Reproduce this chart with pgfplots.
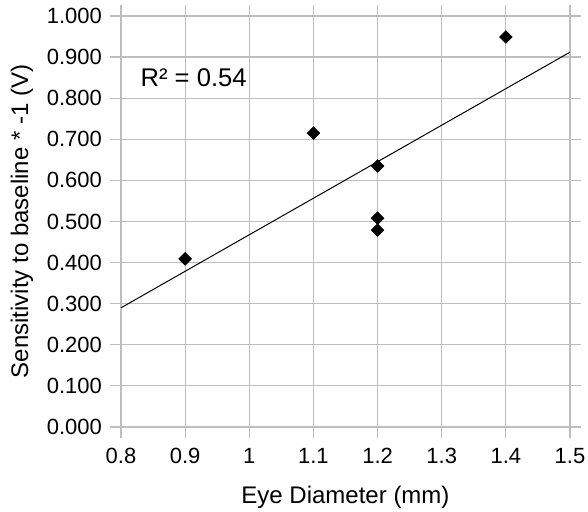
\documentclass[border=0pt]{standalone}
\usepackage{fontspec}
\setmainfont{Liberation Sans}
\usepackage{pgfplots}
\pgfplotsset{compat=1.18}

\definecolor{gridgray}{RGB}{190,190,190}

\begin{document}
\begin{tikzpicture}
  \useasboundingbox (-60.5pt,-42.5pt) rectangle (233.5pt,213.5pt);
  \begin{axis}[
    scale only axis=true,
    width=224.5pt, height=205.5pt,
    xmin=0.8, xmax=1.5,
    ymin=0, ymax=1,
    xtick={0.8,0.9,1,1.1,1.2,1.3,1.4,1.5},
    ytick={0,0.1,0.2,0.3,0.4,0.5,0.6,0.7,0.8,0.9,1},
    yticklabel style={/pgf/number format/fixed,
      /pgf/number format/fixed zerofill,
      /pgf/number format/precision=3},
    /pgf/number format/assume math mode=true,
    tick label style={font=\fontsize{11}{13}\selectfont},
    label style={font=\fontsize{12}{14}\selectfont},
    xlabel={Eye Diameter (mm)},
    ylabel={Sensitivity to baseline * -1 (V)},
    xlabel style={at={(axis description cs:0.5,-0.170)}, anchor=center},
    ylabel style={at={(axis description cs:-0.2205,0.5)}, anchor=center},
    yticklabel style={xshift=-0.5pt},
    xticklabel style={yshift=-1.5pt},
    tick align=outside,
    major tick length=5.5pt,
    tick style={gridgray, line width=0.6pt},
    xmajorgrids, ymajorgrids,
    grid style={gridgray, line width=0.6pt},
    axis line style={gridgray, line width=0.8pt},
    clip=false,
  ]
    \addplot[black, line width=0.5pt] coordinates {(0.8,0.290) (1.5,0.912)};
    \addplot[only marks, mark=square*, mark size=2.2pt,
      mark options={rotate=45, fill=black, draw=black}]
      coordinates {
        (0.9,0.409) (1.1,0.715) (1.2,0.635)
        (1.2,0.508) (1.2,0.479) (1.4,0.949)
      };
    \node[anchor=west, inner sep=0pt, font=\fontsize{12.8}{15}\selectfont]
      at (axis cs:0.830,0.849) {R² = 0.54};
  \end{axis}
\end{tikzpicture}
\end{document}
